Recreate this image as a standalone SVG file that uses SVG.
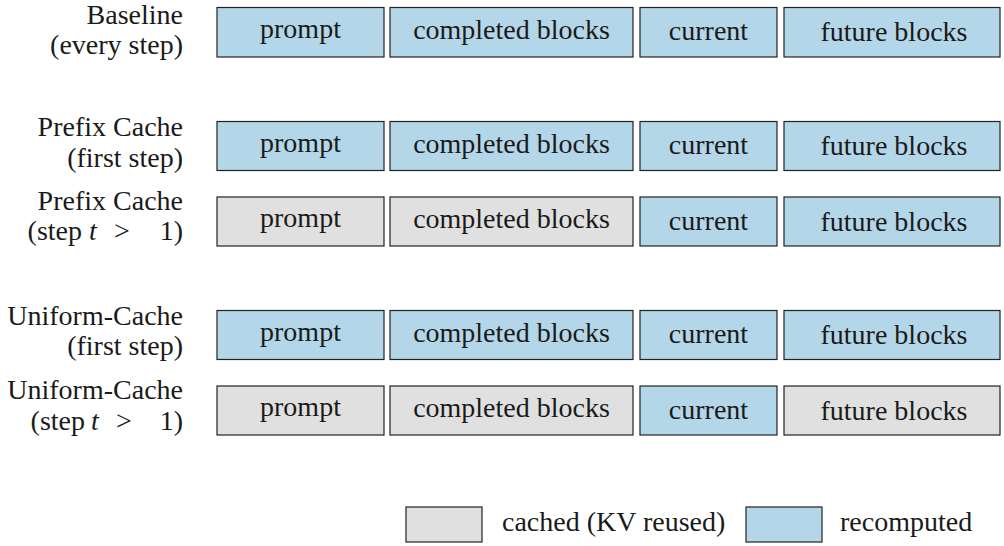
<svg xmlns="http://www.w3.org/2000/svg" width="1004" height="546" viewBox="0 0 1004 546">
<style>
.b{fill:#b3d6e8;stroke:#222;stroke-width:1.2}
.g{fill:#e0e0e0;stroke:#222;stroke-width:1.2}
</style>
<rect width="1004" height="546" fill="#fff"/>
<g font-size="28" fill="#1a1a1a">
<!-- Row labels -->
<g id="label-baseline" text-anchor="end">
<text font-family="Liberation Serif" x="183" y="23.5">Baseline</text>
<text font-family="Liberation Serif" x="183" y="54">(every step)</text>
</g>
<g id="label-prefix-first" text-anchor="end">
<text font-family="Liberation Serif" x="183" y="136">Prefix Cache</text>
<text font-family="Liberation Serif" x="183" y="166.5">(first step)</text>
</g>
<g id="label-prefix-later">
<text font-family="Liberation Serif" text-anchor="end" x="183" y="210">Prefix Cache</text>
<text font-family="Liberation Serif" text-anchor="end" x="82" y="240">(step</text>
<text font-family="Liberation Serif" font-style="italic" x="89" y="240">t</text>
<text font-family="Liberation Serif" x="114" y="240">&gt;</text>
<text font-family="Liberation Serif" text-anchor="end" x="183" y="240">1)</text>
</g>
<g id="label-uniform-first" text-anchor="end">
<text font-family="Liberation Serif" x="183" y="325">Uniform-Cache</text>
<text font-family="Liberation Serif" x="183" y="355">(first step)</text>
</g>
<g id="label-uniform-later">
<text font-family="Liberation Serif" text-anchor="end" x="183" y="398.5">Uniform-Cache</text>
<text font-family="Liberation Serif" text-anchor="end" x="85" y="429.5">(step</text>
<text font-family="Liberation Serif" font-style="italic" x="91" y="429.5">t</text>
<text font-family="Liberation Serif" x="116" y="429.5">&gt;</text>
<text font-family="Liberation Serif" text-anchor="end" x="183" y="429.5">1)</text>
</g>

<g text-anchor="middle">
<!-- Row 1: Baseline -->
<g id="r1-prompt"><rect class="b" x="217" y="7.5" width="167" height="49.5"/><text font-family="Liberation Serif" x="300.5" y="37.8">prompt</text></g>
<g id="r1-completed"><rect class="b" x="390" y="7.5" width="243" height="49.5"/><text font-family="Liberation Serif" x="511.5" y="38.9">completed blocks</text></g>
<g id="r1-current"><rect class="b" x="640" y="7.5" width="137" height="49.5"/><text font-family="Liberation Serif" x="708.5" y="40.4">current</text></g>
<g id="r1-future"><rect class="b" x="784" y="7.5" width="216" height="49.5"/><text font-family="Liberation Serif" x="894" y="41.4">future blocks</text></g>

<!-- Row 2: Prefix first -->
<g id="r2-prompt"><rect class="b" x="217" y="121.5" width="167" height="49"/><text font-family="Liberation Serif" x="300.5" y="151.5">prompt</text></g>
<g id="r2-completed"><rect class="b" x="390" y="121.5" width="243" height="49"/><text font-family="Liberation Serif" x="511.5" y="152.6">completed blocks</text></g>
<g id="r2-current"><rect class="b" x="640" y="121.5" width="137" height="49"/><text font-family="Liberation Serif" x="708.5" y="154.1">current</text></g>
<g id="r2-future"><rect class="b" x="784" y="121.5" width="216" height="49"/><text font-family="Liberation Serif" x="894" y="155.1">future blocks</text></g>

<!-- Row 3: Prefix later -->
<g id="r3-prompt"><rect class="g" x="217" y="197" width="167" height="49"/><text font-family="Liberation Serif" x="300.5" y="227">prompt</text></g>
<g id="r3-completed"><rect class="g" x="390" y="197" width="243" height="49"/><text font-family="Liberation Serif" x="511.5" y="228.1">completed blocks</text></g>
<g id="r3-current"><rect class="b" x="640" y="197" width="137" height="49"/><text font-family="Liberation Serif" x="708.5" y="229.6">current</text></g>
<g id="r3-future"><rect class="b" x="784" y="197" width="216" height="49"/><text font-family="Liberation Serif" x="894" y="230.6">future blocks</text></g>

<!-- Row 4: Uniform first -->
<g id="r4-prompt"><rect class="b" x="217" y="310.5" width="167" height="49"/><text font-family="Liberation Serif" x="300.5" y="340.5">prompt</text></g>
<g id="r4-completed"><rect class="b" x="390" y="310.5" width="243" height="49"/><text font-family="Liberation Serif" x="511.5" y="341.6">completed blocks</text></g>
<g id="r4-current"><rect class="b" x="640" y="310.5" width="137" height="49"/><text font-family="Liberation Serif" x="708.5" y="343.1">current</text></g>
<g id="r4-future"><rect class="b" x="784" y="310.5" width="216" height="49"/><text font-family="Liberation Serif" x="894" y="344.1">future blocks</text></g>

<!-- Row 5: Uniform later -->
<g id="r5-prompt"><rect class="g" x="217" y="386" width="167" height="49"/><text font-family="Liberation Serif" x="300.5" y="416">prompt</text></g>
<g id="r5-completed"><rect class="g" x="390" y="386" width="243" height="49"/><text font-family="Liberation Serif" x="511.5" y="417.1">completed blocks</text></g>
<g id="r5-current"><rect class="b" x="640" y="386" width="137" height="49"/><text font-family="Liberation Serif" x="708.5" y="418.6">current</text></g>
<g id="r5-future"><rect class="g" x="784" y="386" width="216" height="49"/><text font-family="Liberation Serif" x="894" y="419.6">future blocks</text></g>
</g>

<!-- Legend -->
<g id="legend-cached"><rect class="g" x="406" y="507" width="76" height="35"/><text font-family="Liberation Serif" x="502" y="531">cached (KV reused)</text></g>
<g id="legend-recomputed"><rect class="b" x="746" y="507" width="76" height="35"/><text font-family="Liberation Serif" x="840" y="531">recomputed</text></g>
</g>
</svg>
